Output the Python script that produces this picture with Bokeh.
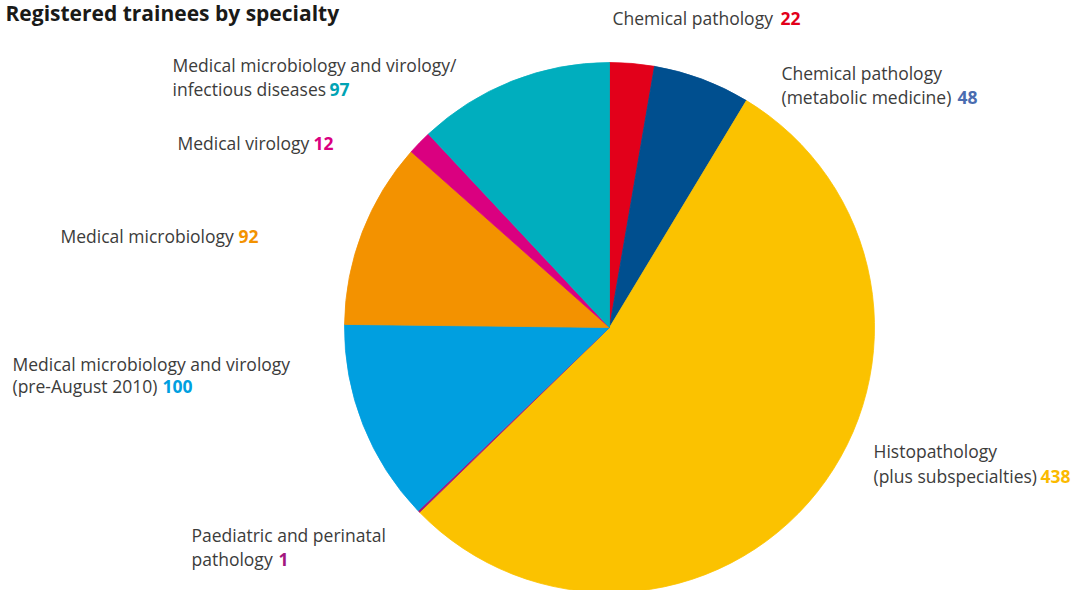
import math
from bokeh.plotting import figure
from bokeh.models import Range1d, ColumnDataSource
from bokeh.core.properties import value
from bokeh.embed import file_html
from bokeh.resources import INLINE

# ---- data ----
specialties = [
    "Chemical pathology",
    "Chemical pathology\n(metabolic medicine)",
    "Histopathology\n(plus subspecialties)",
    "Paediatric and perinatal\npathology",
    "Medical microbiology and virology\n(pre-August 2010)",
    "Medical microbiology",
    "Medical virology",
    "Medical microbiology and virology/\ninfectious diseases",
]
trainees = [22, 48, 438, 1, 100, 92, 12, 97]
slice_colors = ["#E2001A", "#004F8F", "#FBC200", "#A3177E", "#009FE0", "#F39200", "#DA0080", "#00AEBE"]
number_colors = ["#E2001A", "#4A6CB0", "#FBBA00", "#A3177E", "#009FE0", "#F39200", "#DA0080", "#00A3B4"]
title = "Registered trainees by specialty"

# ---- layout (screen px) ----
W, H = 1072, 590
def X(sx): return sx
def Y(sy): return H - sy

cx, cy, R = 609, 327, 265
label_left = [612, 781, 873, 191, 12, 60, 177, 172]
label_base = [[17.5], [72.5, 96.5], [450.5, 475.5], [534.5, 558.5], [363.5, 385.5], [235.5], [142.5], [64.5, 88.5]]
num_left = [780, 957, 1040, 278, 162, 238, 313, 329]

p = figure(width=W, height=H, output_backend="svg", toolbar_location=None,
           x_range=Range1d(0, W), y_range=Range1d(0, H), min_border=0,
           outline_line_color=None, background_fill_color="white")
p.axis.visible = False
p.grid.visible = False

total = float(sum(trainees))
starts, ends = [], []
cum = 0.0
for v in trainees:
    starts.append(math.pi / 2 - 2 * math.pi * cum / total)
    cum += v
    ends.append(math.pi / 2 - 2 * math.pi * cum / total)

src = ColumnDataSource(dict(x=[X(cx)] * len(trainees), y=[Y(cy)] * len(trainees),
                            s=starts, e=ends, c=slice_colors))
p.wedge(x="x", y="y", radius=R, start_angle="s", end_angle="e", direction="clock",
        fill_color="c", line_color="c", line_width=0.8, source=src)

FONT = value("Open Sans")
txt_x, txt_y, txt_t = [], [], []
num_x, num_y, num_t, num_c = [], [], [], []
for i, name in enumerate(specialties):
    lines = name.split("\n")
    for j, ln in enumerate(lines):
        txt_x.append(X(label_left[i]))
        txt_y.append(Y(label_base[i][j]))
        txt_t.append(ln)
    num_x.append(X(num_left[i]))
    num_y.append(Y(label_base[i][-1]))
    num_t.append(str(trainees[i]))
    num_c.append(number_colors[i])

p.text(x=txt_x, y=txt_y, text=txt_t, text_font=FONT, text_font_size="17.5px",
       text_color="#3C3C3B", text_align="left", text_baseline="alphabetic")
p.text(x=num_x, y=num_y, text=num_t, text_font=FONT, text_font_size="17.5px",
       text_font_style="bold", text_color=num_c, text_align="left", text_baseline="alphabetic")

p.text(x=[X(5)], y=[Y(12)], text=[title], text_font=FONT, text_font_size="21px",
       text_font_style="bold", text_color="#1A1A18", text_align="left", text_baseline="alphabetic")

open("out.html", "w").write(file_html(p, INLINE))
